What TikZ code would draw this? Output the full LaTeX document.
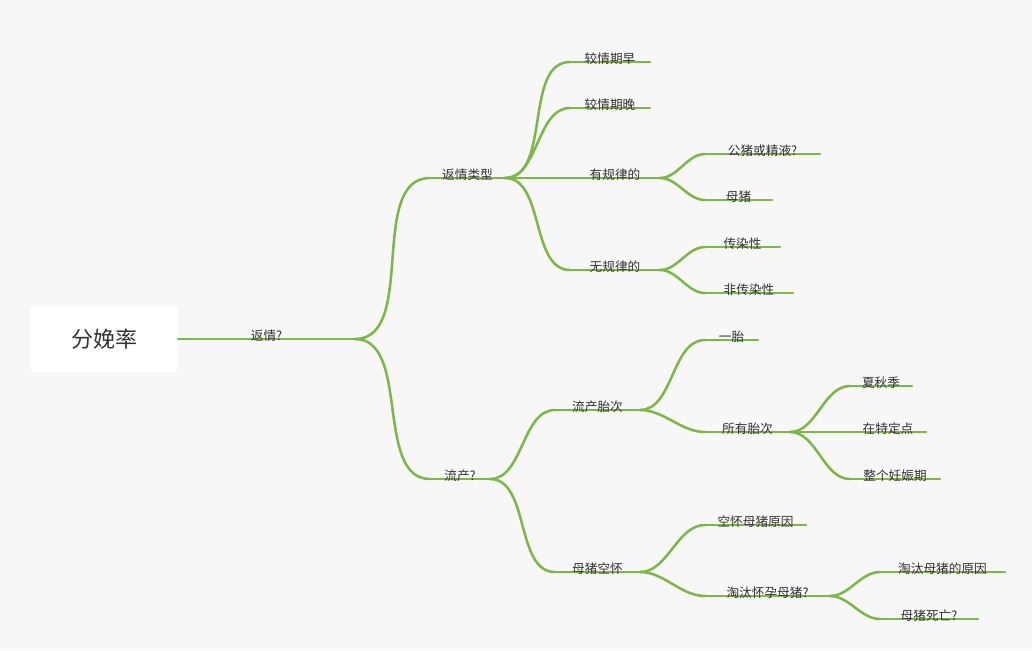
\documentclass[tikz,border=0pt]{standalone}
\usepackage{fontspec}
\setmainfont{Noto Sans CJK SC}
\definecolor{bg}{HTML}{F7F7F7}
\definecolor{br}{HTML}{7DB749}
\definecolor{tx}{HTML}{333333}
\tikzset{brl/.style={draw=br,line width=1.9pt,line cap=round},
 lbl/.style={font=\fontsize{9.5pt}{11pt}\selectfont,text=tx,inner sep=1pt,anchor=south}}
\newcommand{\brn}[5]{% name x1 x2 y text
 \coordinate (#1-s) at (#2,#4); \coordinate (#1-e) at (#3,#4);
 \draw[brl] (#1-s) -- (#1-e);
 \node[lbl] (#1) at ($(#1-s)!0.5!(#1-e)+(0,4)$) {#5};}
\usetikzlibrary{calc}
\begin{document}
\begin{tikzpicture}[x=0.75pt,y=-0.75pt]
\fill[bg] (0,0) rectangle (1032,650);
\useasboundingbox (0,0) rectangle (1032,650);
\node[fill=white,rounded corners=3pt,minimum width=111pt,minimum height=49.5pt,text=tx,font=\fontsize{16.5pt}{18pt}\selectfont] (root) at (104,339) {分娩率};
\brn{fq}{178}{355}{339}{返情?}
\brn{lx}{430}{505}{178}{返情类型}
\brn{lc}{430}{490}{479}{流产?}
\brn{z}{570}{650}{62}{较情期早}
\brn{w}{570}{650}{108}{较情期晚}
\brn{gl}{570}{660}{178}{有规律的}
\brn{wg}{570}{660}{270}{无规律的}
\brn{gz}{705}{820}{154}{公猪或精液?}
\brn{mz}{705}{772}{200}{母猪}
\brn{cr}{705}{780}{247}{传染性}
\brn{fc}{705}{793}{293}{非传染性}
\brn{tc}{555}{640}{410}{流产胎次}
\brn{kh}{555}{640}{572}{母猪空怀}
\brn{yt}{705}{758}{340}{一胎}
\brn{sy}{705}{790}{432}{所有胎次}
\brn{xq}{850}{912}{386}{夏秋季}
\brn{td}{850}{926}{432}{在特定点}
\brn{rs}{850}{940}{479}{整个妊娠期}
\brn{yy}{705}{806}{525}{空怀母猪原因}
\brn{tt}{705}{830}{596}{淘汰怀孕母猪?}
\brn{ty}{880}{1005}{572}{淘汰母猪的原因}
\brn{sw}{880}{978}{619}{母猪死亡?}
\foreach \a/\b in {fq/lx,fq/lc,lx/z,lx/w,lx/gl,lx/wg,gl/gz,gl/mz,wg/cr,wg/fc,lc/tc,lc/kh,tc/yt,tc/sy,sy/xq,sy/td,sy/rs,kh/yy,kh/tt,tt/ty,tt/sw}
  \draw[brl] (\a-e) to[out=0,in=180,looseness=0.9] (\b-s);
\end{tikzpicture}
\end{document}
